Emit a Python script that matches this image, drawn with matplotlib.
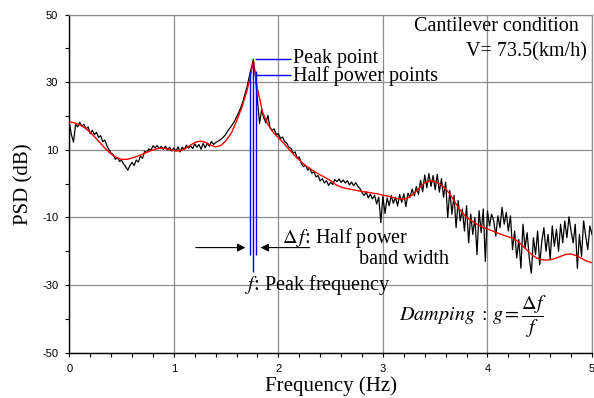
import numpy as np
import matplotlib
matplotlib.use("Agg")
import matplotlib.pyplot as plt
from matplotlib.ticker import MultipleLocator

plt.rcParams['mathtext.fontset'] = 'stix'
plt.rcParams['axes.unicode_minus'] = False

# ---------------- data ----------------
red_f = [0.00, 0.05, 0.10, 0.15, 0.20, 0.25, 0.30, 0.35, 0.40, 0.45,
         0.50, 0.55, 0.60, 0.65, 0.70, 0.75, 0.80, 0.85, 0.90, 0.95,
         1.00, 1.05, 1.10, 1.15, 1.20, 1.25, 1.30, 1.35, 1.40, 1.45,
         1.50, 1.55, 1.60, 1.65, 1.70, 1.73, 1.76, 1.80, 1.85, 1.90, 1.95,
         2.00, 2.05, 2.10, 2.15, 2.20, 2.25, 2.30, 2.35, 2.40, 2.45,
         2.50, 2.55, 2.60, 2.65, 2.70, 2.75, 2.80, 2.85, 2.90, 2.95,
         3.00, 3.05, 3.10, 3.15, 3.20, 3.25, 3.30, 3.35, 3.40, 3.45,
         3.50, 3.55, 3.60, 3.65, 3.70, 3.75, 3.80, 3.85, 3.90, 3.95,
         4.00, 4.05, 4.10, 4.15, 4.20, 4.25, 4.30, 4.35, 4.40, 4.45,
         4.50, 4.55, 4.60, 4.65, 4.70, 4.75, 4.80, 4.85, 4.90, 4.95, 5.00]
red_db = [18.3, 18.0, 17.4, 16.5, 15.2, 13.6, 11.9, 10.2, 8.8, 7.7,
          7.2, 7.2, 7.6, 8.1, 8.7, 9.4, 10.0, 10.4, 10.5, 10.2,
          9.8, 9.7, 10.2, 11.2, 12.2, 12.6, 12.3, 11.4, 10.9, 11.3,
          12.8, 15.0, 18.5, 22.5, 27.5, 31.5, 36.3, 28.0, 21.0, 17.5, 15.2,
          13.6, 12.0, 10.2, 8.5, 7.0, 5.6, 4.5, 3.5, 2.6, 1.8,
          0.9, -0.3, -1.0, -1.4, -1.7, -2.0, -2.3, -2.5, -2.8, -3.0,
          -3.4, -3.7, -4.1, -4.5, -4.6, -4.0, -2.8, -1.2, 0.3, 0.9,
          0.6, -0.2, -1.5, -3.5, -6.0, -8.3, -10.0, -11.0, -12.0, -12.8,
          -13.4, -14.0, -14.6, -15.2, -15.7, -16.2, -17.3, -18.8, -20.3, -21.6,
          -22.4, -22.6, -22.5, -22.1, -21.5, -20.9, -20.8, -21.3, -22.1, -22.9, -23.4]

black_df = 0.02
black_db = [
    18.0, 14.5, 12.3, 17.5, 16.8, 18.2, 17.0, 17.6, 16.2, 16.8,   # 0.00-0.18
    14.8, 15.8, 14.5, 15.2, 13.7, 14.2, 12.4, 12.9, 11.2, 10.0,   # 0.20-0.38
    9.0, 8.6, 7.2, 7.8, 6.6, 6.9, 5.8, 5.0, 4.0, 5.4,             # 0.40-0.58
    6.3, 5.4, 7.0, 6.4, 8.1, 7.5, 9.6, 9.2, 10.3, 9.9,            # 0.60-0.78
    11.2, 10.6, 11.3, 10.4, 11.0, 10.2, 11.1, 10.0, 10.8, 9.7,    # 0.80-0.98
    10.6, 9.6, 10.9, 9.4, 10.8, 10.1, 11.4, 10.5, 11.2, 10.4,     # 1.00-1.18
    11.8, 10.8, 11.6, 10.2, 11.9, 10.6, 12.0, 11.1, 12.5, 11.6,   # 1.20-1.38
    12.2, 12.5, 12.9, 13.4, 14.0, 14.8, 15.8, 16.6, 17.5, 18.4,   # 1.40-1.58
    19.8, 21.0, 22.5, 24.2, 26.5, 28.5, 31.5, 34.0, 36.8, 32.0,   # 1.60-1.78
    24.5, 17.8, 22.0, 19.5, 18.0, 20.2, 16.5, 15.8, 16.2, 14.5,   # 1.80-1.98
    14.8, 13.4, 13.8, 12.4, 12.0, 10.8, 10.5, 9.0, 9.4, 7.6,      # 2.00-2.18
    7.9, 6.0, 5.0, 5.5, 4.0, 4.6, 3.1, 3.5, 2.0, 2.4,             # 2.20-2.38
    0.8, 1.5, 0.2, 0.9, -0.5, 0.4, -0.2, 1.2, 0.6, 1.4,           # 2.40-2.58
    0.4, 1.1, 0.2, 0.9, -0.4, 0.5, -0.6, 0.3, -0.8, -1.4,         # 2.60-2.78
    -2.6, -3.5, -2.4, -4.2, -3.1, -4.5, -3.4, -6.0, -4.0, -11.5,  # 2.80-2.98
    -3.8, -8.8, -4.2, -6.5, -3.5, -5.8, -4.0, -6.6, -3.2, -5.5,   # 3.00-3.18
    -3.0, -6.8, -2.8, -4.0, -1.6, -3.6, -0.8, -3.2, 1.0, -2.4,    # 3.20-3.38
    2.6, -1.2, 3.0, -0.8, 2.4, -1.8, 2.8, -2.5, 1.5, -4.0,        # 3.40-3.58
    0.5, -10.0, -2.0, -9.0, -3.5, -13.0, -5.0, -11.0, -7.5, -14.0,  # 3.60-3.78
    -6.5, -17.5, -9.0, -15.0, -10.0, -21.0, -8.0, -14.5, -7.5, -23.0,  # 3.80-3.98
    -8.0, -12.5, -9.0, -11.0, -15.5, -9.5, -13.0, -7.0, -12.0, -8.5,   # 4.00-4.18
    -14.0, -9.5, -19.5, -14.0, -22.0, -16.5, -25.0, -12.0, -19.0, -14.5,  # 4.20-4.38
    -22.0, -26.5, -16.0, -21.0, -14.0, -24.0, -17.0, -13.0, -20.0, -15.0,  # 4.40-4.58
    -22.5, -12.5, -18.5, -13.5, -20.0, -12.0, -17.5, -11.0, -16.0, -9.8,   # 4.60-4.78
    -14.0, -17.5, -12.0, -25.0, -15.0, -21.5, -11.0, -15.5, -19.5, -12.5,  # 4.80-4.98
    -15.0]                                                                 # 5.00
black_f = [i * black_df for i in range(len(black_db))]

peak_f = 1.755
half_f = [1.725, 1.785]
peak_db = 36.3
half_db = 33.3

x_ticks = [0, 1, 2, 3, 4, 5]
y_ticks = [-50, -30, -10, 10, 30, 50]

# ---------------- figure ----------------
fig = plt.figure(figsize=(5.94, 3.98), dpi=100)
ax = fig.add_axes([0.1167, 0.1138, 0.8799, 0.8493])

ax.set_xlim(0, 5)
ax.set_ylim(-50, 50)
ax.set_xticks(x_ticks)
ax.set_yticks(y_ticks)
ax.xaxis.set_minor_locator(MultipleLocator(0.2))
ax.yaxis.set_minor_locator(MultipleLocator(10))
ax.grid(True, which='major', color='#8c8c8c', lw=0.9)
ax.set_axisbelow(True)
for s in ['top', 'right']:
    ax.spines[s].set_color('#8c8c8c')
    ax.spines[s].set_linewidth(0.9)
for s in ['left', 'bottom']:
    ax.spines[s].set_color('black')
    ax.spines[s].set_linewidth(1.0)

ax.tick_params(which='both', direction='out', length=3, width=0.8, colors='black',
               labelsize=8, pad=5)
for lab in ax.get_xticklabels() + ax.get_yticklabels():
    lab.set_family('Liberation Sans')

ax.plot(black_f, black_db, color='black', lw=0.9, zorder=3)
ax.plot(red_f, red_db, color='red', lw=1.0, zorder=4)

# blue marker lines
ax.vlines(peak_f, -26, peak_db, color='blue', lw=1.0, zorder=5)
ax.vlines(half_f, -21, half_db, color='blue', lw=1.0, zorder=5)
ax.hlines(37.0, 1.775, 2.12, color='blue', lw=1.0, zorder=5)
ax.hlines(32.2, 1.79, 2.12, color='blue', lw=1.0, zorder=5)

serif = 'Liberation Serif'
fs = 14.5
ax.text(2.14, 37.0, 'Peak point', family=serif, fontsize=fs, va='center', ha='left')
ax.text(2.14, 31.8, 'Half power points', family=serif, fontsize=fs, va='center', ha='left')
ax.text(4.87, 46.5, 'Cantilever condition', family=serif, fontsize=fs, va='center', ha='right')
ax.text(4.95, 39.0, 'V= 73.5(km/h)', family=serif, fontsize=fs, va='center', ha='right')

# band-width arrows
ax.annotate('', xy=(1.685, -18.9), xytext=(1.21, -18.9),
            arrowprops=dict(arrowstyle='-|>', color='black', lw=0.8,
                            mutation_scale=12, shrinkA=0, shrinkB=0))
ax.annotate('', xy=(1.83, -18.9), xytext=(2.30, -18.9),
            arrowprops=dict(arrowstyle='-|>', color='black', lw=0.8,
                            mutation_scale=12, shrinkA=0, shrinkB=0))

ax.text(2.03, -16.0, r'$\Delta\,f$: Half power', family=serif, fontsize=fs,
        va='center', ha='left')
ax.text(2.77, -22.5, 'band width', family=serif, fontsize=fs, va='center', ha='left')
ax.text(1.68, -30.0, r'$f$: Peak frequency', family=serif, fontsize=fs,
        va='center', ha='left')
ax.text(3.15, -39.5, r'$Damping\;:\,g=\dfrac{\Delta f}{f}$', family=serif, fontsize=fs,
        va='center', ha='left')

ax.set_xlabel('Frequency (Hz)', family=serif, fontsize=15, labelpad=2)
ax.set_ylabel('PSD (dB)', family=serif, fontsize=15, labelpad=6)

fig.savefig('out.png', dpi=100)
